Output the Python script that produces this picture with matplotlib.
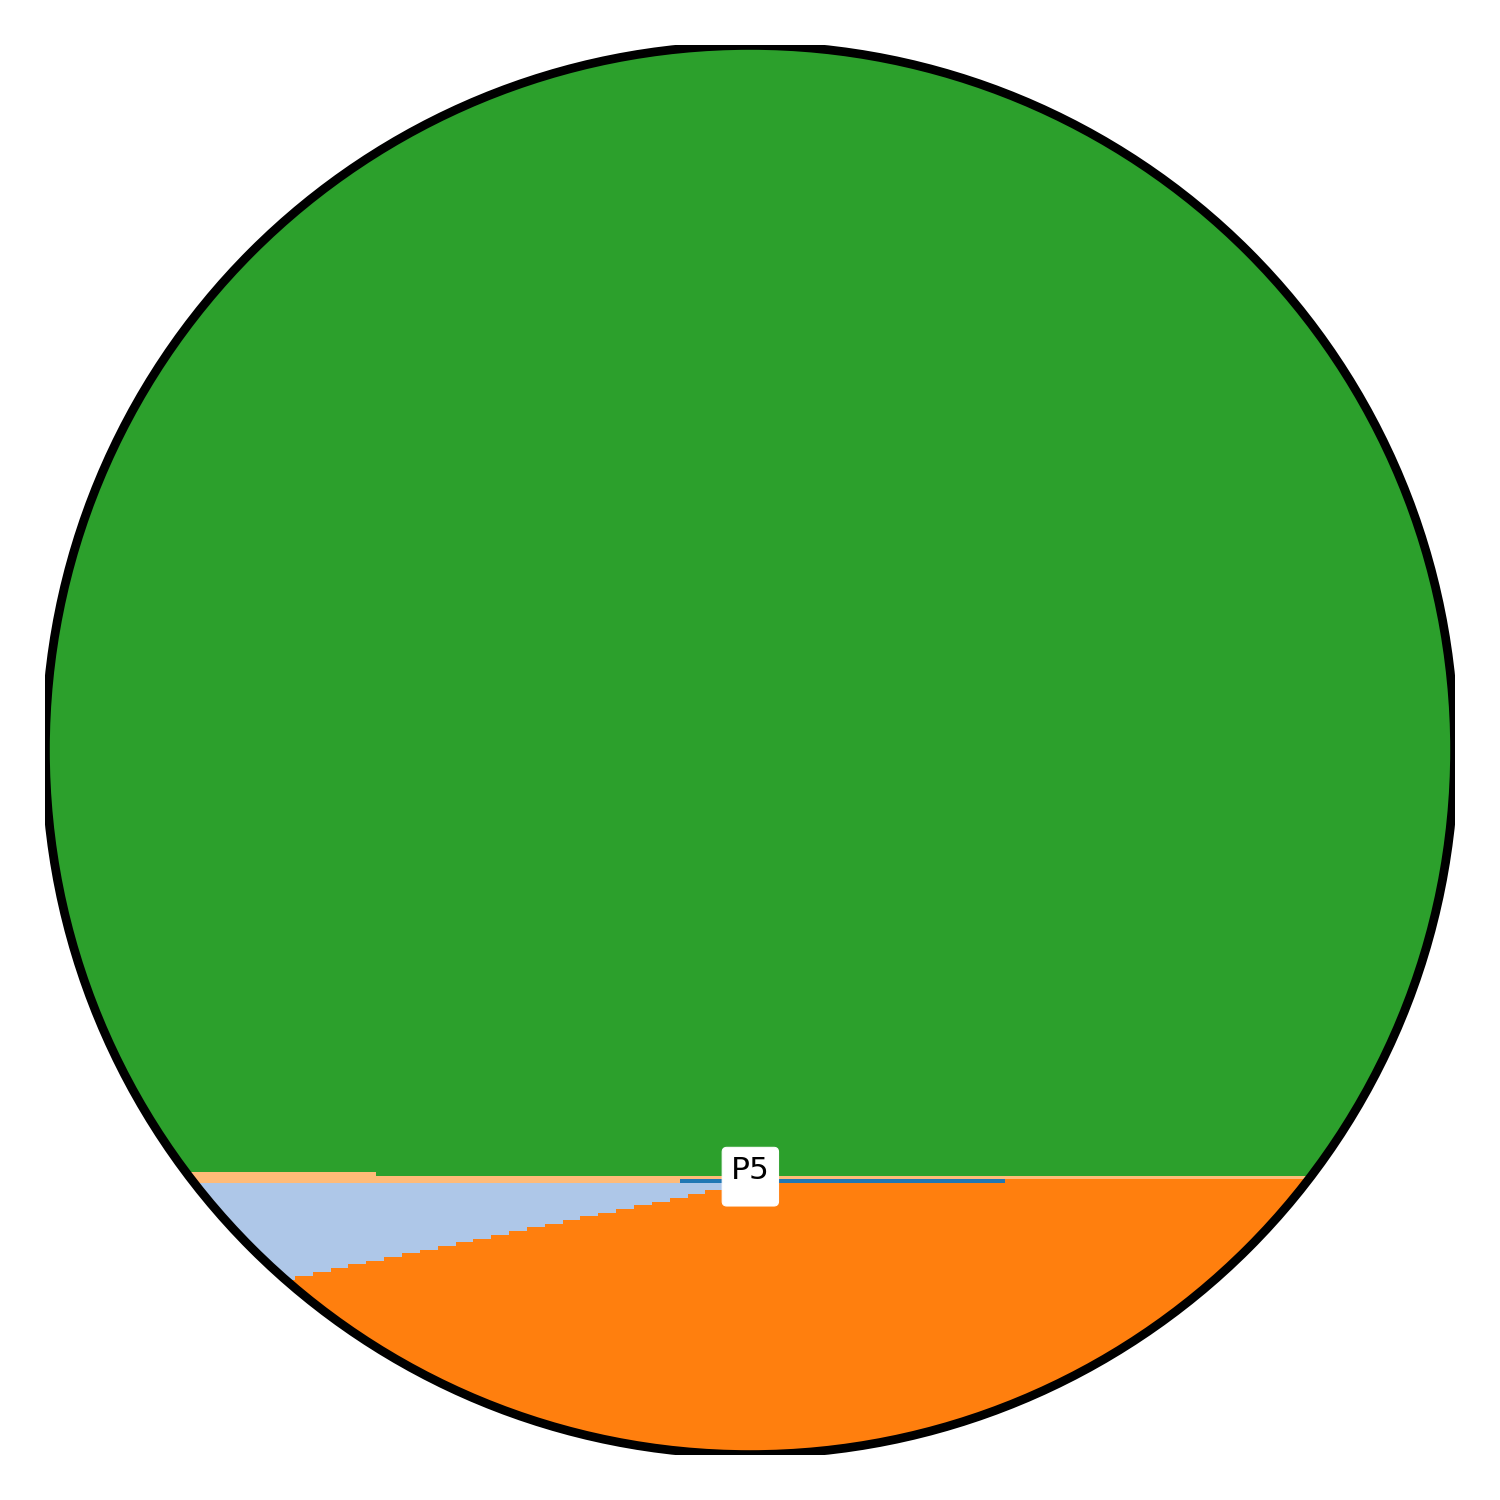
import numpy as np
import matplotlib
matplotlib.use("Agg")
import matplotlib.pyplot as plt
from matplotlib.patches import Circle

# ---- data (in % of the plot height) ----
bar_index = np.arange(79)
orange_vals = [
    8.99, 9.26, 9.52, 9.79, 10.05, 10.31, 10.58, 10.84, 11.11, 11.37,
    11.64, 11.90, 12.17, 12.43, 12.70, 12.98, 13.26, 13.55, 13.76, 14.04,
    14.33, 14.54, 14.82, 15.11, 15.32, 15.60, 15.89, 16.17, 16.38, 16.67,
    16.95, 17.16, 17.45, 17.73, 17.94, 18.23, 18.51, 18.79, 19.08, 19.29,
    19.57, 19.57, 19.57, 19.57, 19.57, 19.57, 19.57, 19.57, 19.57, 19.57,
    19.57, 19.57, 19.57, 19.57, 19.57, 19.57, 19.57, 19.57, 19.57, 19.57,
    19.57, 19.57, 19.57, 19.57, 19.57, 19.57, 19.57, 19.57, 19.57, 19.57,
    19.57, 19.57, 19.57, 19.57, 19.57, 19.57, 19.57, 19.57, 19.57,
]
lightblue_top = 19.29
blue_span = [35.08, 53.29]
blue_low, blue_high = 19.29, 19.57
peach_edges = [-0.5, 18.05, 78.5]
peach_tops = [20.07, 19.79]
green_top = 100.0
label_text = "P5"
label_x, label_y = 39.02, 19.74

C_ORANGE = "#ff7f0e"
C_LBLUE = "#aec7e8"
C_BLUE = "#1f77b4"
C_PEACH = "#ffbb78"
C_GREEN = "#2ca02c"

fig = plt.figure(figsize=(10, 10), dpi=150)
ax = fig.add_axes([0.03, 0.03, 0.94, 0.94])
ax.axis("off")

clip = Circle((0.5, 0.5), 0.5, transform=ax.transAxes)
x_lo, x_hi = -0.5, len(bar_index) - 0.5
edges = np.append(bar_index - 0.5, bar_index[-1] + 0.5)

arts = []
arts.append(ax.fill_between([x_lo, x_hi], 0, green_top, color=C_GREEN, lw=0))
arts.append(ax.stairs(peach_tops, peach_edges, baseline=0, fill=True,
                      color=C_PEACH, lw=0))
arts.append(ax.fill_between([x_lo, x_hi], 0, lightblue_top, color=C_LBLUE, lw=0))
arts.append(ax.stairs(orange_vals, edges, baseline=0, fill=True,
                      color=C_ORANGE, lw=0))
arts.append(ax.fill_between(blue_span, blue_low, blue_high, color=C_BLUE, lw=0))
for a in arts:
    a.set_clip_path(clip)

outline = Circle((0.5, 0.5), 0.4997, transform=ax.transAxes, fill=False,
                 edgecolor="black", linewidth=4.2)
ax.add_patch(outline)

ax.text(label_x, label_y, label_text + "\n", ha="center", va="center",
        fontsize=15, linespacing=0.27, color="black",
        bbox=dict(boxstyle="round,pad=0.28,rounding_size=0.15",
                  fc="white", ec="white", lw=0.5))

ax.set_xlim(x_lo, x_hi)
ax.set_ylim(0, 100)

fig.savefig("out.png", dpi=150)
